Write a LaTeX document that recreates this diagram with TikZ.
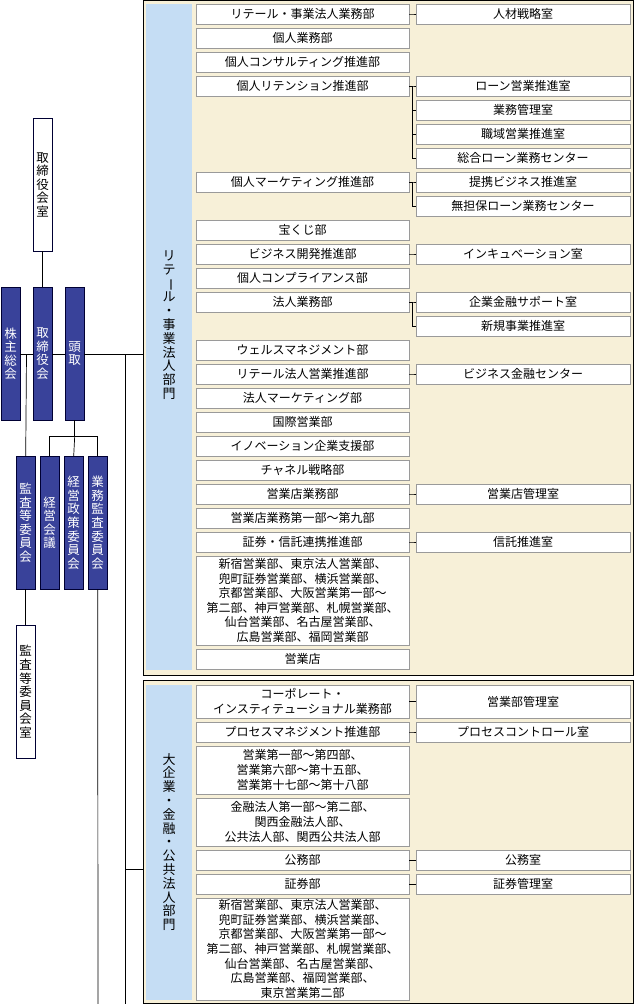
\documentclass[tikz,border=0pt]{standalone}
\usepackage{fontspec}
\usepackage{graphicx}
\setmainfont{Noto Sans CJK JP}
\definecolor{navy}{HTML}{39429A}
\definecolor{beige}{HTML}{F7F0D8}
\definecolor{lblue}{HTML}{C5DDF4}
\definecolor{gbord}{HTML}{9A9A9A}
\newcommand\vb{\rotatebox[origin=c]{-90}{ー}}
\tikzset{
 bx/.style={draw=gbord,fill=white,inner sep=0pt,align=center,font=\fontsize{12}{14.6}\selectfont},
 lb/.style={bx,minimum width=213pt},
 rb/.style={bx,minimum width=214pt},
 frame/.style={draw=black,line width=0.9pt,fill=beige,anchor=north west,inner sep=0pt},
 strip/.style={fill=lblue,anchor=north west,inner sep=0pt,minimum width=46pt},
 nv/.style={draw=black!80!blue,fill=navy,text=white,minimum width=19pt,inner sep=0pt,anchor=north west,align=center,font=\fontsize{12.5}{13.6}\selectfont},
 wv/.style={draw=black!80!blue,fill=white,minimum width=19pt,inner sep=0pt,anchor=north west,align=center,font=\fontsize{12.5}{13.6}\selectfont},
 vl/.style={align=center,inner sep=0pt,font=\fontsize{13}{13.8}\selectfont},
 ln/.style={draw=black,line width=0.7pt},
 tk/.style={draw=black,line width=0.5pt}
}
\newcommand\LB[4]{\node[lb,minimum height=#3] (#1) at (302.5,{-(#2+#3/2)}) {#4};}
\newcommand\RB[4]{\node[rb,minimum height=#3] (#1) at (523,{-(#2+#3/2)}) {#4};}
\begin{document}
\begin{tikzpicture}[x=1pt,y=1pt]
\useasboundingbox (0,0) rectangle (634,-1004);
% frames
\node[frame,minimum width=490pt,minimum height=675pt] (F1) at (143,0) {};
\node[strip,minimum height=666pt] (S1) at (146,-4) {};
\node[frame,minimum width=490pt,minimum height=323pt] (F2) at (143,-680) {};
\node[strip,minimum height=315pt] (S2) at (146,-685) {};
\node[vl] (V1) at (169,-325) {リ\\テ\\\vb\\ル\\・\\事\\業\\法\\人\\部\\門};
\node[vl] (V2) at (169,-842) {大\\企\\業\\・\\金\\融\\・\\公\\共\\法\\人\\部\\門};
% left column frame 1
\LB{a1}{4}{20}{リテール・事業法人業務部}
\LB{a2}{28}{20}{個人業務部}
\LB{a3}{52}{20}{個人コンサルティング推進部}
\LB{a4}{76}{20}{個人リテンション推進部}
\LB{a5}{172}{20}{個人マーケティング推進部}
\LB{a6}{220}{20}{宝くじ部}
\LB{a7}{244}{20}{ビジネス開発推進部}
\LB{a8}{268}{20}{個人コンプライアンス部}
\LB{a9}{292}{20}{法人業務部}
\LB{a10}{340}{20}{ウェルスマネジメント部}
\LB{a11}{364}{20}{リテール法人営業推進部}
\LB{a12}{388}{20}{法人マーケティング部}
\LB{a13}{412}{20}{国際営業部}
\LB{a14}{436}{20}{イノベーション企業支援部}
\LB{a15}{460}{20}{チャネル戦略部}
\LB{a16}{484}{20}{営業店業務部}
\LB{a17}{508}{20}{営業店業務第一部～第九部}
\LB{a18}{532}{20}{証券・信託連携推進部}
\LB{a19}{556}{89}{新宿営業部、東京法人営業部、\\兜町証券営業部、横浜営業部、\\京都営業部、大阪営業第一部～\\第二部、神戸営業部、札幌営業部、\\仙台営業部、名古屋営業部、\\広島営業部、福岡営業部}
\LB{a20}{649}{20}{営業店}
% right column frame 1
\RB{r1}{4}{20}{人材戦略室}
\RB{r2}{76}{20}{ローン営業推進室}
\RB{r3}{100}{20}{業務管理室}
\RB{r4}{124}{20}{職域営業推進室}
\RB{r5}{148}{20}{総合ローン業務センター}
\RB{r6}{172}{20}{提携ビジネス推進室}
\RB{r7}{196}{20}{無担保ローン業務センター}
\RB{r8}{244}{20}{インキュベーション室}
\RB{r9}{292}{20}{企業金融サポート室}
\RB{r10}{316}{20}{新規事業推進室}
\RB{r11}{364}{20}{ビジネス金融センター}
\RB{r12}{484}{20}{営業店管理室}
\RB{r13}{532}{20}{信託推進室}
% frame 2
\LB{b1}{685}{33}{コーポレート・\\インスティテューショナル業務部}
\LB{b2}{722}{20}{プロセスマネジメント推進部}
\LB{b3}{746}{48}{営業第一部～第四部、\\営業第六部～第十五部、\\営業第十七部～第十八部}
\LB{b4}{798}{48}{金融法人第一部～第二部、\\関西金融法人部、\\公共法人部、関西公共法人部}
\LB{b5}{850}{20}{公務部}
\LB{b6}{874}{20}{証券部}
\LB{b7}{898}{102}{新宿営業部、東京法人営業部、\\兜町証券営業部、横浜営業部、\\京都営業部、大阪営業第一部～\\第二部、神戸営業部、札幌営業部、\\仙台営業部、名古屋営業部、\\広島営業部、福岡営業部、\\東京営業第二部}
\RB{s1}{685}{33}{営業部管理室}
\RB{s2}{722}{20}{プロセスコントロール室}
\RB{s3}{850}{20}{公務室}
\RB{s4}{874}{20}{証券管理室}
% ticks
\foreach \p/\c in {a1/r1,a4/r2,a4/r3,a4/r4,a4/r5,a5/r6,a5/r7,a7/r8,a9/r9,a9/r10,a11/r11,a16/r12,a18/r13,b1/s1,b2/s2,b5/s3,b6/s4}
  \draw[tk] (\p.east) -- ++(3.5,0) |- (\c.west);
% left governance
\node[wv,minimum height=133pt] (TS) at (33,-118) {取\\締\\役\\会\\室};
\node[nv,minimum height=133pt] (KS) at (1,-287) {株\\主\\総\\会};
\node[nv,minimum height=133pt] (TR) at (33,-287) {取\\締\\役\\会};
\node[nv,minimum height=133pt] (TD) at (65,-287) {頭\\取};
\node[nv,minimum height=133pt] (KA) at (16,-456) {監\\査\\等\\委\\員\\会};
\node[nv,minimum height=133pt] (KK) at (40,-456) {経\\営\\会\\議};
\node[nv,minimum height=133pt] (KP) at (64,-456) {経\\営\\政\\策\\委\\員\\会};
\node[nv,minimum height=133pt] (GK) at (88,-456) {業\\務\\監\\査\\委\\員\\会};
\node[wv,minimum height=133pt] (KAS) at (16,-625) {監\\査\\等\\委\\員\\会\\室};
\coordinate (J) at (26.5,-354);
\coordinate (T1) at (125,-354);
\coordinate (T2) at (125,-869);
\coordinate (TB) at (125,-1004);
\coordinate (GB) at (98,-1004);
\draw[ln] (TS.south) -- (TR.north);
\draw[ln] (KS.east |- J) -- (TR.west |- J);
\draw[ln] (TR.east |- J) -- (TD.west |- J);
\draw[ln] (TD.east |- J) -- (F1.west |- J);
\draw[ln] (T1) -- (TB);
\draw[ln] (T2) -- (F2.west |- T2);
\draw[ln] (J) -- (KA.north);
\draw[ln] (TD.south) -- ++(0,-16) coordinate (H);
\draw[ln] (KK.north) |- (H) -| (GK.north);
\draw[ln] (H) -- (KP.north);
\draw[ln] (KA.south) -- (KAS.north);
\draw[ln] (GK.south) -- (GB);
\end{tikzpicture}
\end{document}
